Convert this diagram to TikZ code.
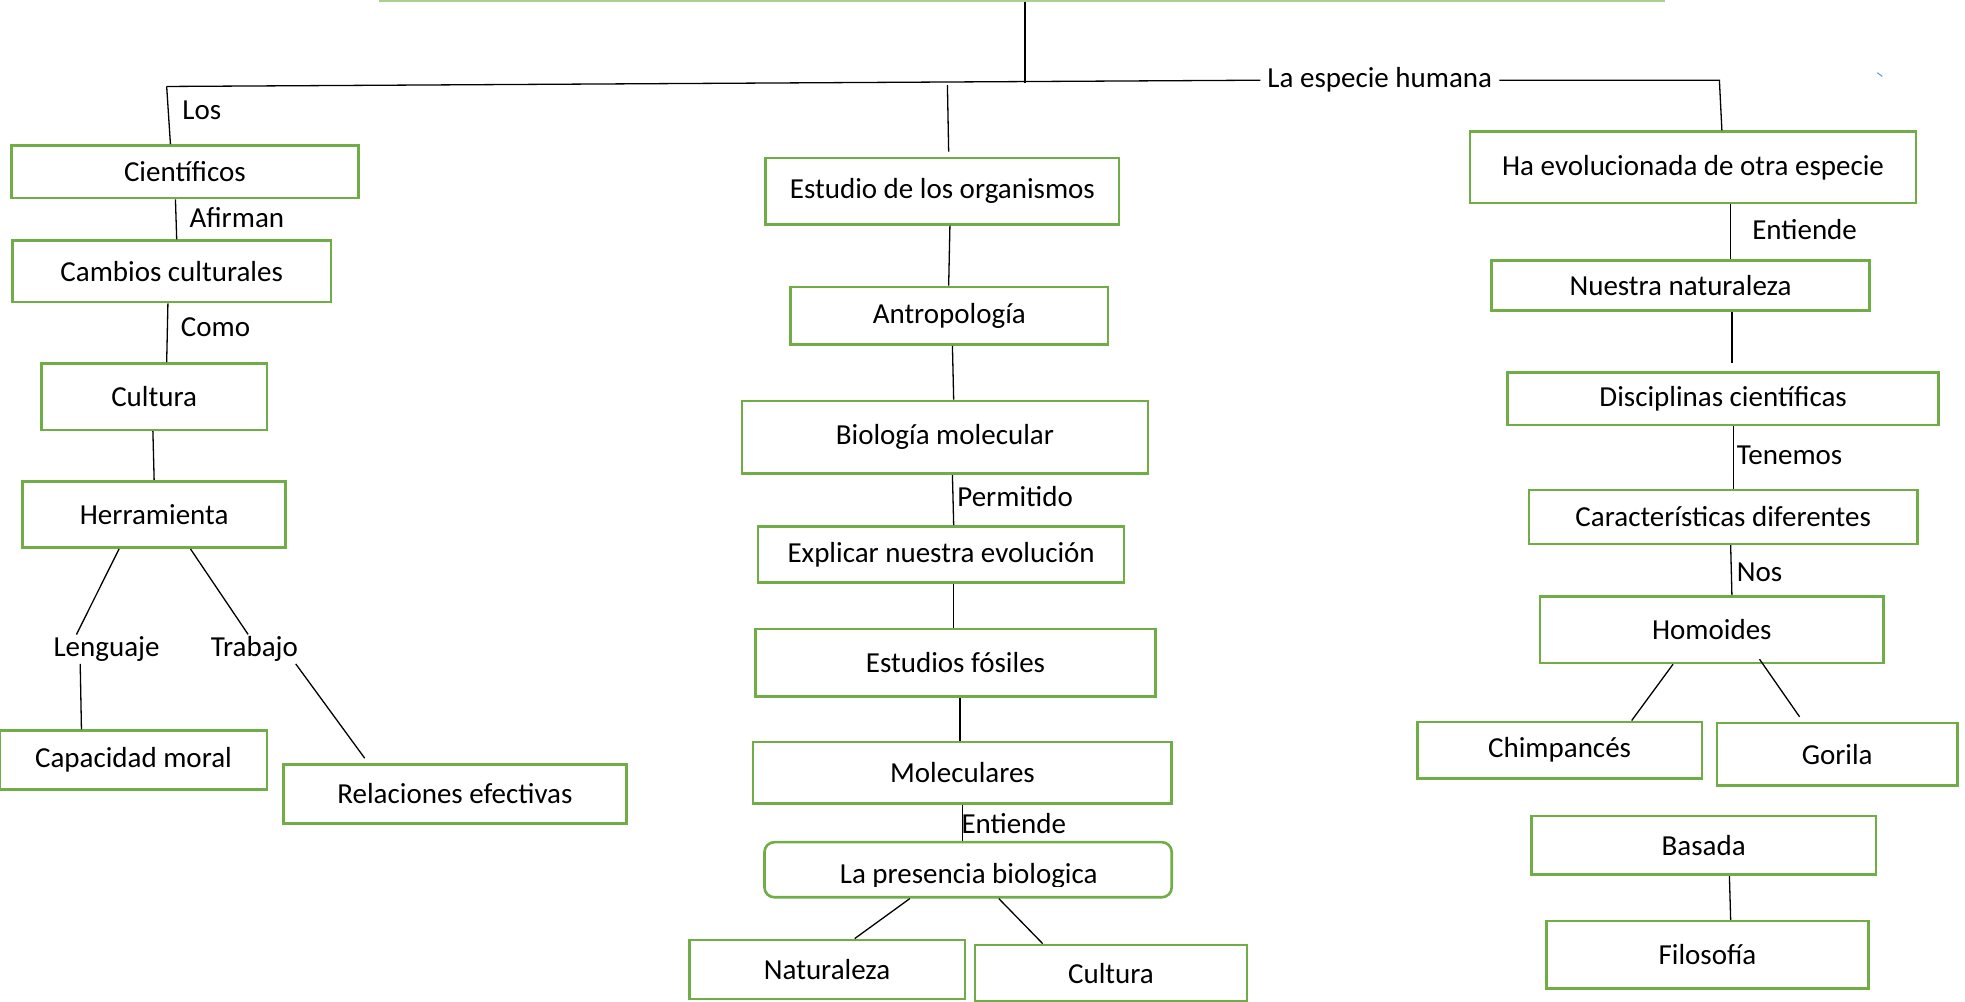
\documentclass[tikz,border=0pt]{standalone}
\usepackage{fontspec}
\setmainfont{Carlito}
\usetikzlibrary{fit}
\definecolor{boxgreen}{HTML}{70AD47}
\definecolor{lightgreen}{HTML}{A9D18E}
\definecolor{tickblue}{HTML}{5B9BD5}
\newcommand{\fs}{\fontsize{29}{33}\selectfont}
\tikzset{
  box/.style={draw=boxgreen, line width=2.6pt, inner sep=0pt, font=\fs, text=black, align=center},
  bx/.style 2 args={minimum width=#1*1.2532pt, minimum height=#2*1.2532pt},
  rbox/.style={box, rounded corners=10pt},
  lbl/.style={font=\fs, inner sep=2pt, text=black},
  conn/.style={draw=black, line width=1.3pt},
}
\begin{document}
\begin{tikzpicture}[x=1.2532pt, y=-1.2532pt]
\useasboundingbox (0,0) rectangle (1568,799);
\clip (0,0) rectangle (1568,799);
% title box (cut off at top)
\node[draw=lightgreen, line width=2pt, inner sep=0pt, fit={(303,-40) (1328,1)}] (title) {};
% root label
\node[lbl, inner xsep=7pt] (root) at (1101,64) {La especie humana};
\coordinate (hl) at (133,69);
\coordinate (jtop) at (818,66);
\coordinate (jmid) at (756,68);
\coordinate (jright) at (1372,64);
% left column
\node[box, bx={277}{42}] (cient) at (147.5,137) {Científicos};
\node[box, bx={254}{49}] (camb) at (137,216.5) {Cambios culturales};
\node[box, bx={180}{53}] (cultL) at (123,316.5) {Cultura};
\node[box, bx={210}{53}] (herr) at (123,410.5) {Herramienta};
\node[lbl] (leng) at (85,518) {Lenguaje};
\node[lbl] (trab) at (203,518) {Trabajo};
\node[box, bx={213}{47}] (capm) at (106.5,606.5) {Capacidad moral};
\node[box, bx={274}{47}] (rel) at (363,633.5) {Relaciones efectivas};
% middle column
\node[box, bx={282}{53}] (estu) at (752,152.5) {Estudio de los organismos};
\node[box, bx={253}{46}] (antro) at (757.5,252) {Antropología};
\node[box, bx={324}{58}] (biol) at (754,349) {Biología molecular};
\node[box, bx={292}{45}] (expl) at (751,442.5) {Explicar nuestra evolución};
\node[box, bx={319}{54}] (estf) at (762.5,529) {Estudios fósiles};
\node[box, bx={334}{49}] (molec) at (768,616.5) {Moleculares};
\node[rbox, bx={325}{44}] (pres) at (772.5,694) {};
\begin{scope}
  \clip (612,674) rectangle (933,707);
  \node[lbl, anchor=base] (prestxt) at (773,705) {La presencia biologica};
\end{scope}
\node[box, bx={220}{47}] (natu) at (660,773.5) {Naturaleza};
\node[box, bx={217}{45}] (cultM) at (886.5,776.5) {Cultura};
% right column
\node[box, bx={356}{57}] (ha) at (1351,133.5) {Ha evolucionada de otra especie};
\node[box, bx={302}{40}] (nues) at (1341,228) {Nuestra naturaleza};
\node[box, bx={344}{42}] (disc) at (1375,318) {Disciplinas científicas};
\node[box, bx={310}{43}] (cara) at (1375,412.5) {Características diferentes};
\node[box, bx={274}{53}] (homo) at (1366,502.5) {Homoides};
\node[box, bx={227}{45}] (chim) at (1244.5,598.5) {Chimpancés};
\node[box, bx={192}{50}] (gor) at (1466,602) {Gorila};
\node[box, bx={275}{47}] (basa) at (1359.5,674.5) {Basada};
\node[box, bx={257}{54}] (filo) at (1362.5,762) {Filosofía};
% connector labels
\node[lbl] (lLos) at (161,88) {Los};
\node[lbl] (lAfi) at (189,174) {Afirman};
\node[lbl] (lCom) at (172,261) {Como};
\node[lbl] (lPer) at (810,396) {Permitido};
\node[lbl] (lEnt1) at (809,657) {Entiende};
\node[lbl] (lEnt2) at (1440,183) {Entiende};
\node[lbl] (lTen) at (1428,363) {Tenemos};
\node[lbl] (lNos) at (1404,457) {Nos};
% top connectors
\draw[conn] (title.south -| 818,0) -- (jtop);
\draw[conn] (hl) -- (root.west);
\draw[conn] (root.east) -- (jright) -- (ha.north -| 1374,0);
\draw[conn] (hl) -- (cient.north -| 136,0);
\draw[conn] (jmid) -- (757,121);
% left connectors
\draw[conn] (cient.south -| 140,0) -- (camb.north -| 141,0);
\draw[conn] (camb.south -| 134,0) -- (cultL.north -| 133,0);
\draw[conn] (cultL.south -| 122,0) -- (herr.north -| 123,0);
\draw[conn] (herr.south -| 95,0) -- (leng.north -| 61,0);
\draw[conn] (herr.south -| 152,0) -- (trab.north -| 198,0);
\draw[conn] (leng.south -| 64,0) -- (capm.north -| 65,0);
\draw[conn] (trab.south -| 236,0) -- (291,605);
% middle connectors
\draw[conn] (estu.south -| 758,0) -- (antro.north -| 757,0);
\draw[conn] (antro.south -| 760,0) -- (biol.north -| 761,0);
\draw[conn] (biol.south -| 760,0) -- (expl.north -| 761,0);
\draw[conn] (expl.south -| 761,0) -- (estf.north -| 761,0);
\draw[conn] (estf.south -| 766,0) -- (molec.north -| 766,0);
\draw[conn] (molec.south -| 768,0) -- (pres.north -| 768,0);
\draw[conn] (pres.south -| 726,0) -- (natu.north -| 682,0);
\draw[conn] (pres.south -| 797,0) -- (cultM.north -| 832,0);
% right connectors
\draw[conn] (ha.south -| 1381,0) -- (nues.north -| 1381,0);
\draw[conn] (nues.south -| 1382,0) -- (1382,290);
\draw[conn] (disc.south -| 1383,0) -- (cara.north -| 1383,0);
\draw[conn] (cara.south -| 1381,0) -- (homo.north -| 1382,0);
\draw[conn] (homo.south -| 1335,0) -- (chim.north -| 1302,0);
\draw[conn] (1404,526) -- (1436,572);
\draw[conn] (basa.south -| 1380,0) -- (filo.north -| 1381,0);
% small blue tick
\draw[tickblue, line width=1pt] (1498,58) -- (1502,61);
\end{tikzpicture}
\end{document}
